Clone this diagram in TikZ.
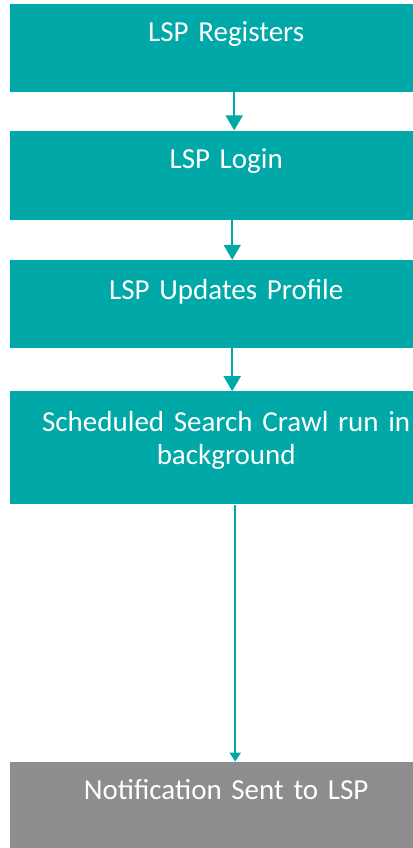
\documentclass[tikz,border=0pt]{standalone}
\usepackage{fontspec}
\setmainfont{Carlito}
\usetikzlibrary{positioning,arrows.meta}
\definecolor{lspteal}{HTML}{00A8A8}
\definecolor{lspgray}{HTML}{8D8D8D}

\begin{document}
\begin{tikzpicture}[x=1pt,y=1pt,
    stepbox/.style={rectangle, draw=none, fill=lspteal, text=white, inner xsep=0pt, inner ysep=0pt,
      text width=432pt, align=center, font=\fontsize{29}{33}\selectfont, text height=37pt, text depth=51pt},
    flow/.style={draw=lspteal, line width=1.8pt, -{Triangle[width=17pt,length=15pt]}}]

    \useasboundingbox (0,0) rectangle (412,-848);

    \node(lsp-1)[stepbox, anchor=north west] at (10,-4) {LSP Registers};
    \node(lsp-2)[stepbox, below=38pt of lsp-1, text height=38pt] {LSP Login};
    \node(lsp-3)[stepbox, below=40pt of lsp-2, text height=39pt, text depth=49pt] {LSP Updates Profile};
    \node(lsp-4)[stepbox, below=43pt of lsp-3, text height=40pt, text depth=73pt] {Scheduled Search Crawl run in\\ background};
    \node(notify)[stepbox, fill=lspgray, below=257pt of lsp-4, text height=38pt, text depth=50pt] {Notification Sent to LSP};


    \draw[flow] ([xshift=8pt]lsp-1.south) -- ([xshift=8pt]lsp-2.north);
    \draw[flow] ([xshift=6pt]lsp-2.south) -- ([xshift=6pt]lsp-3.north);
    \draw[flow] ([xshift=6pt]lsp-3.south) -- ([xshift=6pt]lsp-4.north);
    \draw[flow, -{Triangle[width=11pt,length=9pt]}] ([xshift=9pt]lsp-4.south) -- ([xshift=9pt]notify.north);
  \end{tikzpicture}
\end{document}
